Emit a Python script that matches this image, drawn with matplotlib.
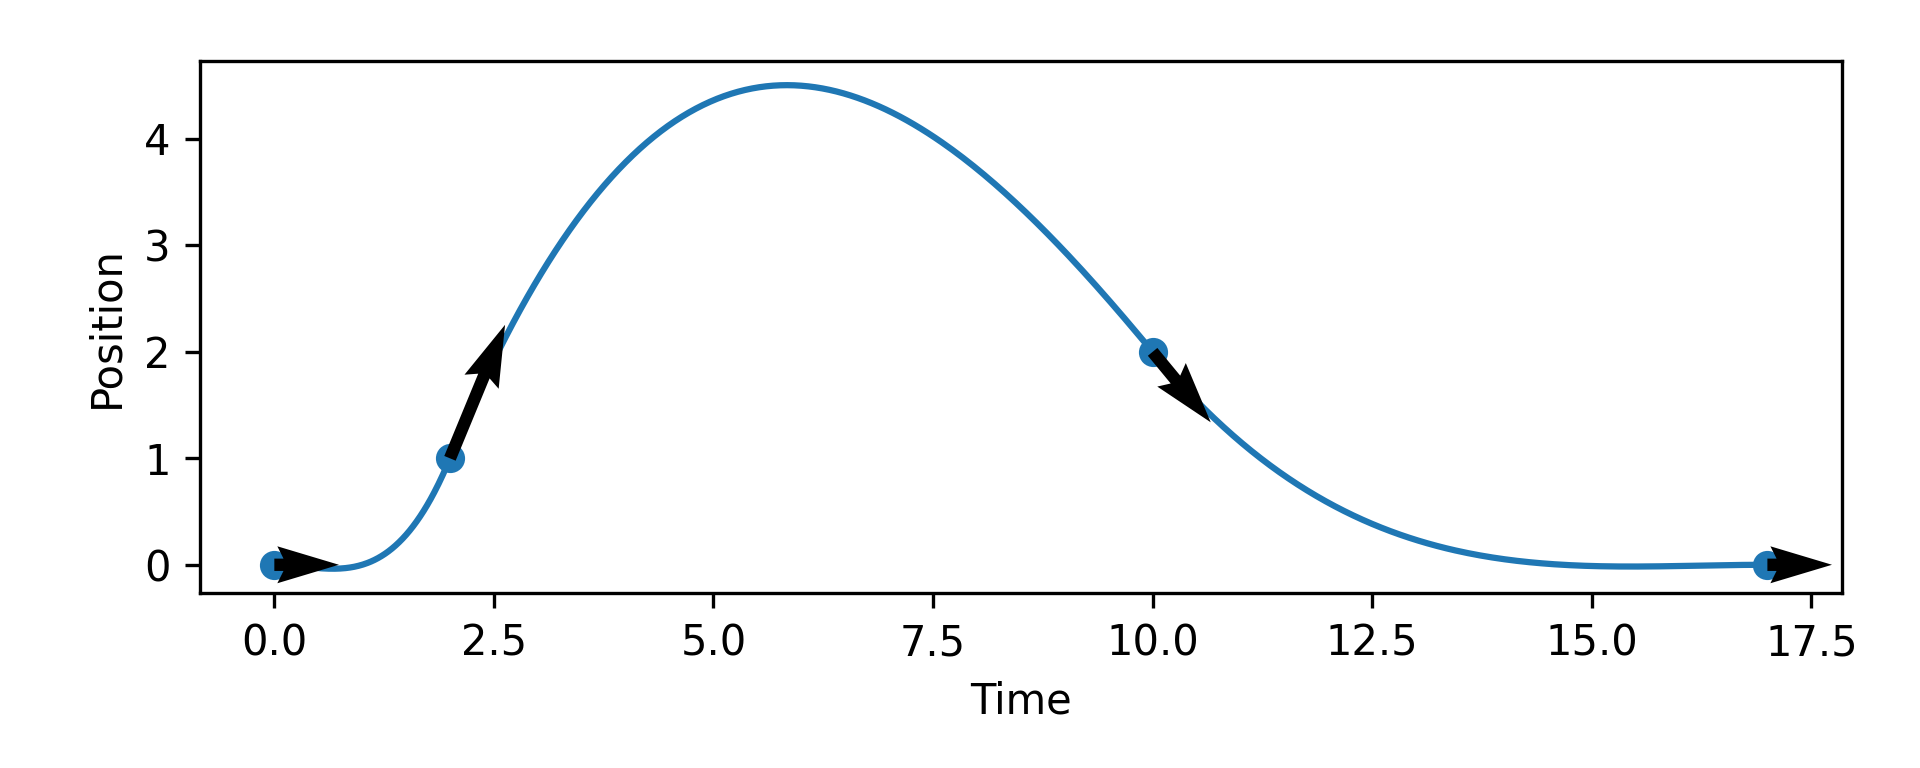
import numpy as np
import matplotlib
matplotlib.use("Agg")
import matplotlib.pyplot as plt

# Key points of the trajectory and their slopes
times = [0, 2, 10, 17]
positions = [0, 1, 2, 0]
slopes = [0, 2, -1, 0]


def hermite_curve(xk, yk, mk, n_per_seg=200):
    xs, ys = [], []
    for i in range(len(xk) - 1):
        h = xk[i + 1] - xk[i]
        s = np.linspace(0, 1, n_per_seg, endpoint=(i == len(xk) - 2))
        h00 = 2 * s**3 - 3 * s**2 + 1
        h10 = s**3 - 2 * s**2 + s
        h01 = -2 * s**3 + 3 * s**2
        h11 = s**3 - s**2
        xs.append(xk[i] + s * h)
        ys.append(h00 * yk[i] + h10 * h * mk[i] + h01 * yk[i + 1] + h11 * h * mk[i + 1])
    return np.concatenate(xs), np.concatenate(ys)


tt, pp = hermite_curve(times, positions, slopes)

fig, ax = plt.subplots(figsize=(6.4, 2.56), dpi=300)
ax.plot(tt, pp, color="#1f77b4", lw=1.5, zorder=1)
ax.scatter(times, positions, color="#1f77b4", zorder=2)
ax.quiver(times, positions, np.ones(len(times)), slopes, angles="xy", zorder=3)
ax.set_xlabel("Time")
ax.set_ylabel("Position")
fig.subplots_adjust(left=0.104, right=0.9594, top=0.9206, bottom=0.228)
fig.savefig("out.png")
